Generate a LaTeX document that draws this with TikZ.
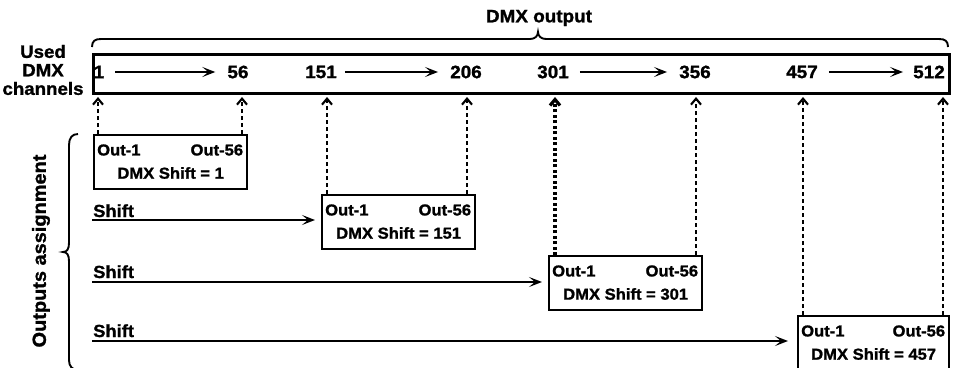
\documentclass[tikz,border=0pt]{standalone}
\usepackage{fontspec}
\newfontfamily\heavy{Liberation Sans Bold}[FakeStretch=1.05, FakeBold=1.3]
\usetikzlibrary{arrows.meta}

\tikzset{
  txt/.style={inner sep=0pt, font=\fontsize{#1}{#1}\selectfont\heavy},
  num/.style={txt=18},
  boxtxt/.style={txt=15.8},
  outbox/.style={draw, line width=2.3pt, minimum width=153pt, minimum height=54pt,
                 inner sep=0pt, anchor=north west},
  tipfill/.style={-{Stealth[length=13pt,width=10pt,inset=6pt]}},
  flow/.style={line width=2pt, tipfill, shorten <=11pt, shorten >=12pt},
  link/.style={line width=2.1pt, dash pattern=on 4pt off 3pt,
               -{Straight Barb[length=6pt,width=10pt]}},
  boldlink/.style={link, line width=3.2pt, dash pattern=on 3pt off 2.5pt},
  shiftarrow/.style={line width=2pt, tipfill},
  bracepath/.style={line width=1.9pt}
}

\begin{document}
\begin{tikzpicture}[x=1pt,y=-1pt]
\useasboundingbox (0,0) rectangle (955,367);
\clip (0,0) rectangle (955,367);

% captions
\node[txt=18] (title) at (539,18) {DMX output};
\node[align=center, inner sep=0pt, font=\fontsize{17.8}{18.5}\selectfont\heavy] (chan) at (43,70) {Used\\DMX\\channels};
\node[txt=19, rotate=90] (assign) at (41,251) {Outputs assignment};

% channel bar
\node[draw, line width=2.6pt, minimum width=856pt, minimum height=39pt, inner sep=0pt,
      anchor=north west] (bar) at (92,53) {};

\node[num] (c1)   at (99,72)  {1};
\node[num] (c56)  at (238,72) {56};
\node[num] (c151) at (321,72) {151};
\node[num] (c206) at (466,72) {206};
\node[num] (c301) at (553,72) {301};
\node[num] (c356) at (695,72) {356};
\node[num] (c457) at (802,72) {457};
\node[num] (c512) at (929,72) {512};

\draw[flow] (c1) -- (c56);
\draw[flow, shorten <=8pt] (c151) -- (c206);
\draw[flow] (c301) -- (c356);
\draw[flow, shorten >=10pt] (c457) -- (c512);

% braces
\draw[bracepath] (92,47) .. controls (92,41) and (95,39) .. (101,39) -- (530,39)
  .. controls (535,39) and (538,36) .. (538,32)
  .. controls (538,36) and (541,39) .. (546,39) -- (939,39)
  .. controls (945,39) and (948,41) .. (948,47);
\draw[bracepath] (78,134) .. controls (72,134) and (69,138) .. (69,145) -- (69,243)
  .. controls (69,249) and (67,252) .. (63,252)
  .. controls (67,252) and (69,255) .. (69,261) -- (69,360)
  .. controls (69,366) and (72,370) .. (78,370);

% output blocks
\node[outbox] (b1) at (93,134) {};
\node[outbox] (b2) at (321,194) {};
\node[outbox] (b3) at (548,255) {};
\node[outbox, minimum width=151pt] (b4) at (797,315) {};

\foreach \b/\s in {b1/1, b2/151, b3/301, b4/457}{
  \node[boxtxt, anchor=west] (\b o1) at ([xshift=4pt,yshift=-16pt]\b.north west) {Out-1};
  \node[boxtxt, anchor=east] (\b o56) at ([xshift=-5pt,yshift=-16pt]\b.north east) {Out-56};
  \node[boxtxt] (\b sh) at ([yshift=-39pt]\b.north) {DMX Shift = \s};
}

% mapping of first and last outputs onto channels
\coordinate (u1) at (98,97);
\coordinate (u2) at (242,97);
\coordinate (u3) at (327,97);
\coordinate (u4) at (467,97);
\coordinate (u5) at (555,97);
\coordinate (u6) at (696,97);
\coordinate (u7) at (803,97);
\coordinate (u8) at (943,97);

\draw[link] (u1 |- b1.north) -- (u1);
\draw[link] (u2 |- b1.north) -- (u2);
\draw[link] (u3 |- b2.north) -- (u3);
\draw[link] (u4 |- b2.north) -- (u4);
\draw[boldlink] (u5 |- b3.north) -- (u5);
\draw[link] (u6 |- b3.north) -- (u6);
\draw[link] (u7 |- b4.north) -- (u7);
\draw[link] (u8 |- b4.north) -- (u8);

% shift arrows
\node[txt=17.5, anchor=base west] (s1) at (93,217) {Shift};
\node[txt=17.5, anchor=base west] (s2) at (93,278) {Shift};
\node[txt=17.5, anchor=base west] (s3) at (93,337) {Shift};
\coordinate (a1) at (92,220);
\coordinate (a2) at (92,282);
\coordinate (a3) at (92,341);
\draw[shiftarrow, shorten >=6pt] (a1) -- (a1 -| b2.west);
\draw[shiftarrow, shorten >=6pt] (a2) -- (a2 -| b3.west);
\draw[shiftarrow, shorten >=9pt] (a3) -- (a3 -| b4.west);
\end{tikzpicture}
\end{document}
